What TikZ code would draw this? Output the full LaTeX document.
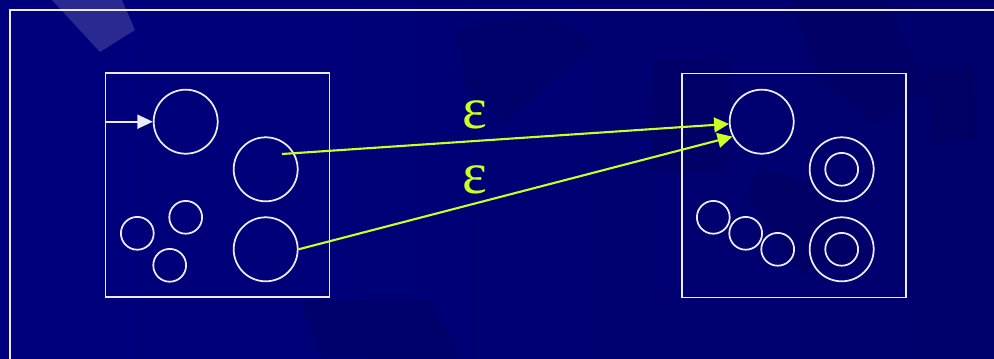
\documentclass[tikz,border=0pt]{standalone}
\usepackage{fontspec}
\newfontfamily\epsfont{Liberation Serif}
\usetikzlibrary{arrows.meta}
\definecolor{figbg}{RGB}{0,0,126}
\definecolor{figbgr}{RGB}{0,0,108}
\definecolor{figdark}{RGB}{0,0,84}
\definecolor{figline}{RGB}{236,236,246}
\definecolor{figeps}{RGB}{204,255,34}
\tikzset{
  frm/.style ={draw=figline, line width=1.2pt},
  bx/.style  ={draw=figline, line width=1.2pt, minimum width=5.6cm, minimum height=5.6cm, inner sep=0pt},
  st/.style  ={circle, draw=figline, line width=1.25pt, minimum size=1.6cm, inner sep=0pt},
  sts/.style ={circle, draw=figline, line width=1.25pt, minimum size=0.82cm, inner sep=0pt},
  eps/.style ={text=figeps, font=\epsfont\fontsize{42}{42}\selectfont, inner sep=0pt},
  ini/.style ={draw=figline, line width=1.2pt, -{Triangle[length=11pt,width=10pt]}},
  tr/.style  ={draw=figeps, line width=1.5pt, -{Triangle[length=10.5pt,width=10.5pt]}},
  pc/.style  ={fill=figdark, opacity=0.3},
}
\begin{document}
\begin{tikzpicture}[x=0.025cm,y=-0.025cm]
  \useasboundingbox (0,0) rectangle (994,358);
  \clip (0,0) rectangle (994,358);
  \shade[left color=figbg, right color=figbgr] (0,0) rectangle (994,358);
  % background pieces
  \fill[white,opacity=0.16] (52,0) -- (100,52) -- (135,30) -- (122,0) -- cycle;
  \fill[pc] (455,30) -- (465,88) -- (505,122) -- (595,42) -- (545,15) -- cycle;
  \fill[pc] (653,57) -- (733,60) -- (728,173) -- (650,172) -- cycle;
  \fill[pc] (790,0) -- (885,0) -- (928,90) -- (875,125) -- (820,80) -- cycle;
  \fill[pc] (927,70) -- (973,67) -- (978,140) -- (932,142) -- cycle;
  \fill[pc] (758,168) -- (840,190) -- (870,260) -- (800,275) -- (745,195) -- cycle;
  \fill[pc] (300,300) -- (430,300) -- (460,358) -- (320,358) -- cycle;
  \draw[frm] (10,370) -- (10,10) -- (1004,10);
  % left automaton
  \node[bx] (lbox) at (217.5,185) {};
  \node[st] (s0) at (185.7,121.7) {};
  \node[st] (q1) at (265.7,169.3) {};
  \node[st] (q2) at (265.7,249.3) {};
  \node[sts] (a1) at (137.3,233.3) {};
  \node[sts] (a2) at (185.7,217.3) {};
  \node[sts] (a3) at (169.7,265.3) {};
  \coordinate (in0) at (105,121.7);
  \draw[ini] (in0) -- (s0);
  % right automaton
  \node[bx] (rbox) at (794,185.5) {};
  \node[st] (p0) at (761.7,121.7) {};
  \node[st] (f1) at (841.7,169.3) {};
  \node[sts] (f1i) at (841.7,169.3) {};
  \node[st] (f2) at (841.7,249.3) {};
  \node[sts] (f2i) at (841.7,249.3) {};
  \node[sts] (b1) at (713.3,217.3) {};
  \node[sts] (b2) at (745.7,233.3) {};
  \node[sts] (b3) at (777.7,249.3) {};
  % epsilon moves
  \coordinate (q1in) at (282,154);
  \draw[tr] (q1in) -- (p0);
  \draw[tr] (q2.east) -- (p0.207);
  \node[eps] (e1) at (475,115) {ε};
  \node[eps] (e2) at (475,180) {ε};
\end{tikzpicture}
\end{document}
